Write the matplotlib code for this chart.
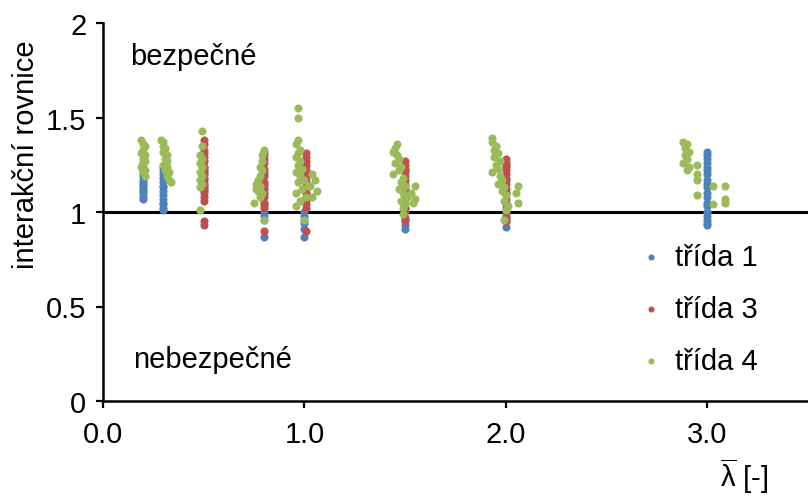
import matplotlib
matplotlib.use("Agg")
import matplotlib.pyplot as plt
import numpy as np

plt.rcParams['font.family'] = ['Liberation Sans', 'DejaVu Sans']
plt.rcParams['mathtext.fontset'] = 'custom'
plt.rcParams['mathtext.rm'] = 'Liberation Sans'

# trida 1 (blue) - values read per lambda column
t1_lam = [0.2, 0.3, 0.5, 0.8, 1.0, 1.5, 2.0, 3.0]
t1_vals = [
    [1.26, 1.24, 1.22, 1.20, 1.19, 1.17, 1.16, 1.15, 1.14, 1.12, 1.11, 1.10, 1.08, 1.07],
    [1.24, 1.22, 1.20, 1.18, 1.16, 1.14, 1.13, 1.11, 1.09, 1.07, 1.05, 1.04, 1.02, 1.01],
    [1.24, 1.21, 1.18, 1.15, 1.12, 1.10],
    [1.20, 1.15, 1.10, 1.05, 1.00, 0.98, 0.96, 0.87],
    [1.25, 1.18, 1.12, 1.06, 1.00, 0.98, 0.96, 0.94, 0.91, 0.87],
    [1.22, 1.15, 1.08, 1.02, 0.96, 0.93, 0.91],
    [1.25, 1.18, 1.10, 1.04, 0.98, 0.95, 0.92],
    [1.32, 1.30, 1.28, 1.26, 1.24, 1.22, 1.20, 1.17, 1.15, 1.13, 1.10, 1.08, 1.05,
     1.03, 1.00, 0.98, 0.96, 0.94, 0.93],
]

# trida 3 (red)
t3_lam = [0.5, 0.8, 1.01, 1.5, 2.0]
t3_vals = [
    [1.38, 1.36, 1.33, 1.31, 1.29, 1.27, 1.24, 1.22, 1.20, 1.17, 1.15, 1.13, 1.11, 1.08, 1.06, 0.95, 0.93],
    [1.32, 1.30, 1.28, 1.26, 1.23, 1.21, 1.19, 1.16, 1.14, 1.12, 1.10, 1.08, 1.05, 1.03, 1.02, 0.90],
    [1.31, 1.29, 1.27, 1.25, 1.22, 1.20, 1.18, 1.16, 1.14, 1.12, 1.10, 1.08, 1.06, 1.04, 1.02, 0.90],
    [1.27, 1.25, 1.23, 1.21, 1.19, 1.17, 1.14, 1.12, 1.10, 1.07, 1.05, 1.02, 1.00, 0.97, 0.95],
    [1.28, 1.26, 1.24, 1.22, 1.20, 1.17, 1.15, 1.12, 1.10, 1.07, 1.05, 1.02, 1.00, 0.97, 0.95],
]

# trida 4 (green) - lambda differs slightly point to point
t4_x = [
    0.19, 0.20, 0.21, 0.20, 0.19, 0.21, 0.20, 0.21, 0.20, 0.19, 0.21, 0.20, 0.21,
    0.29, 0.30, 0.30, 0.31, 0.30, 0.31, 0.32, 0.31, 0.32, 0.30, 0.32, 0.31, 0.33, 0.32, 0.33, 0.34,
    0.49, 0.49, 0.48, 0.49, 0.48, 0.49, 0.48, 0.49, 0.48, 0.49, 0.48, 0.48,
    0.80, 0.79, 0.79, 0.78, 0.79, 0.78, 0.77, 0.76, 0.78, 0.76, 0.77, 0.79, 0.78, 0.75, 0.80,
    0.97, 0.97, 0.97, 0.96, 0.98, 0.97, 0.96, 0.98, 0.97, 0.99, 0.96, 0.98, 1.00, 0.97, 1.02,
    0.99, 0.96, 1.01, 0.98, 0.96, 1.00, 1.04, 1.05, 1.03, 1.06, 1.04,
    1.46, 1.45, 1.44, 1.46, 1.47, 1.45, 1.48, 1.47, 1.44, 1.49, 1.48, 1.50, 1.47, 1.49, 1.51,
    1.48, 1.50, 1.49, 1.49, 1.55, 1.53, 1.55, 1.54,
    1.93, 1.93, 1.95, 1.94, 1.96, 1.94, 1.97, 1.95, 1.96, 1.93, 1.97, 1.98, 1.96, 1.99, 1.98,
    2.00, 1.99, 2.01, 2.00, 1.99, 2.06, 2.05, 2.06,
    2.88, 2.90, 2.89, 2.91, 2.89, 2.90, 2.88, 2.91, 2.90,
    2.95, 2.95, 2.95, 2.95, 3.03, 3.03, 3.09, 3.09, 3.09,
]
t4_y = [
    1.38, 1.36, 1.35, 1.33, 1.31, 1.30, 1.28, 1.27, 1.26, 1.24, 1.22, 1.21, 1.19,
    1.38, 1.37, 1.35, 1.34, 1.32, 1.31, 1.30, 1.28, 1.27, 1.25, 1.24, 1.22, 1.21, 1.19, 1.17, 1.16,
    1.43, 1.35, 1.30, 1.28, 1.26, 1.24, 1.21, 1.19, 1.17, 1.15, 1.13, 1.01,
    1.33, 1.30, 1.27, 1.24, 1.22, 1.19, 1.17, 1.15, 1.14, 1.12, 1.11, 1.10, 1.08, 1.05, 0.96,
    1.55, 1.50, 1.38, 1.36, 1.33, 1.31, 1.29, 1.27, 1.25, 1.23, 1.21, 1.19, 1.17, 1.16, 1.14,
    1.12, 1.10, 1.08, 1.06, 1.03, 0.96, 1.20, 1.17, 1.14, 1.11, 1.08,
    1.36, 1.34, 1.32, 1.30, 1.28, 1.26, 1.24, 1.22, 1.20, 1.18, 1.16, 1.14, 1.12, 1.10, 1.08,
    1.06, 1.04, 1.02, 0.99, 1.14, 1.10, 1.07, 1.05,
    1.39, 1.37, 1.35, 1.33, 1.31, 1.29, 1.27, 1.25, 1.23, 1.21, 1.19, 1.17, 1.15, 1.13, 1.11,
    1.09, 1.06, 1.03, 1.01, 0.96, 1.14, 1.10, 1.05,
    1.37, 1.36, 1.34, 1.32, 1.30, 1.28, 1.26, 1.24, 1.22,
    1.25, 1.20, 1.17, 1.09, 1.14, 1.04, 1.14, 1.07, 1.05,
]

labels = ['třída 1', 'třída 3', 'třída 4']
colors = ['#4F81BD', '#C0504D', '#9BBB59']

fig = plt.figure(figsize=(8.08, 5.02), dpi=100)
ax = fig.add_axes([103 / 808, 100 / 502, 705 / 808, 378 / 502])

x1 = np.concatenate([[l] * len(v) for l, v in zip(t1_lam, t1_vals)])
y1 = np.concatenate(t1_vals)
x3 = np.concatenate([[l] * len(v) for l, v in zip(t3_lam, t3_vals)])
y3 = np.concatenate(t3_vals)

ax.axhline(1, color='black', lw=2.2, zorder=1)
ax.scatter(x1, y1, s=34, color=colors[0], label=labels[0], zorder=2, linewidths=0)
ax.scatter(x3, y3, s=34, color=colors[1], label=labels[1], zorder=3, linewidths=0)
ax.scatter(t4_x, t4_y, s=34, color=colors[2], label=labels[2], zorder=4, linewidths=0)

ax.set_xlim(0, 3.5)
ax.set_ylim(0, 2)
ax.set_xticks([0, 1, 2, 3])
ax.set_xticklabels(['0.0', '1.0', '2.0', '3.0'])
ax.set_yticks([0, 0.5, 1, 1.5, 2])
ax.set_yticklabels(['0', '0.5', '1', '1.5', '2'])
ax.tick_params(labelsize=21, length=5, width=1.6, direction='out')
ax.tick_params(axis='x', pad=9)
ax.tick_params(axis='y', pad=7)
for side in ['top', 'right']:
    ax.spines[side].set_visible(False)
for side in ['left', 'bottom']:
    ax.spines[side].set_linewidth(1.8)

ax.text(0.134, 1.825, 'bezpečné', fontsize=21, va='center', ha='left')
ax.text(0.149, 0.222, 'nebezpečné', fontsize=21, va='center', ha='left')

ax.set_ylabel('interakční rovnice', fontsize=21)
ax.yaxis.set_label_coords(-0.09, 0.653)
ax.set_xlabel(r'$\mathregular{\overline{\lambda}}$ [-]', fontsize=21)
ax.xaxis.set_label_coords(0.91, -0.145)

ax.legend(loc='upper left', bbox_to_anchor=(636 / 808, 1 - 244 / 502),
          bbox_transform=fig.transFigure, frameon=False, fontsize=21,
          scatterpoints=1, markerscale=0.75, handlelength=1.0,
          handletextpad=0.33, borderpad=0, borderaxespad=0, labelspacing=0.82)

fig.savefig('out.png', dpi=100)
